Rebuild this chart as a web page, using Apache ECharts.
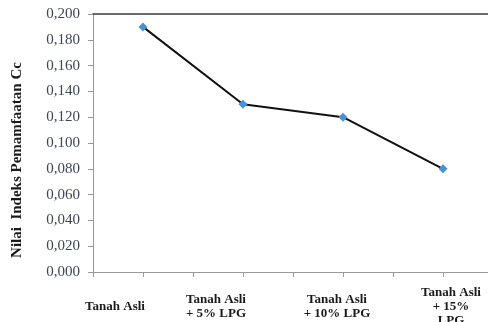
<!DOCTYPE html>
<html>
<head>
<meta charset="utf-8">
<script src="https://cdn.jsdelivr.net/npm/echarts@6/dist/echarts.min.js"></script>
<style>
  html, body { margin: 0; padding: 0; background: #fff; }
  #chart { width: 488px; height: 322px; }
</style>
</head>
<body>
<div id="chart"></div>
<script>
// Soil treatments on the horizontal axis
const categories = ['Tanah Asli', 'Tanah Asli\n+ 5% LPG', 'Tanah Asli\n+ 10% LPG', 'Tanah Asli\n+ 15%\nLPG'];
// Compression index (Cc) per treatment
const ccValues = [0.190, 0.130, 0.120, 0.080];
// Horizontal shift (px) of each category caption
const labelShift = [-28, -27, -6, 8];
const yTicks = { min: 0, max: 0.2, interval: 0.02 };

const chart = echarts.init(document.getElementById('chart'), null, { renderer: 'canvas' });

const rich = {};
categories.forEach((c, i) => {
  const s = labelShift[i];
  rich['c' + i] = {
    fontFamily: 'Liberation Serif',
    fontWeight: 'bold',
    fontSize: 13,
    lineHeight: 14,
    color: '#1a1a1a',
    align: 'center',
    padding: s < 0 ? [0, -2 * s, 0, 0] : [0, 0, 0, 2 * s]
  };
});

chart.setOption({
  animation: false,
  grid: { left: 93, width: 400, top: 14, bottom: 50, containLabel: false, outerBoundsMode: 'none' },
  xAxis: [
    {
      type: 'category',
      data: categories,
      boundaryGap: true,
      axisLine: { show: true, lineStyle: { color: '#9a9a9a', width: 1 } },
      axisTick: { show: true, length: 5, lineStyle: { color: '#9a9a9a' } },
      axisLabel: {
        margin: 35,
        verticalAlign: 'middle',
        interval: 0,
        formatter: (v, i) => v.split('\n').map(line => '{c' + i + '|' + line + '}').join('\n'),
        rich: rich
      },
      splitLine: { show: false }
    },
    {
      // half-step ticks along the bottom edge
      type: 'category',
      position: 'bottom',
      data: ['', '', '', '', '', '', '', ''],
      boundaryGap: true,
      axisLine: { show: false },
      axisTick: { show: true, length: 5, lineStyle: { color: '#9a9a9a' } },
      axisLabel: { show: false },
      splitLine: { show: false }
    },
    {
      // plot-area top border
      type: 'category',
      position: 'top',
      data: categories,
      axisLine: { show: true, lineStyle: { color: '#3a3a3a', width: 1.5 } },
      axisTick: { show: false },
      axisLabel: { show: false }
    }
  ],
  yAxis: {
    type: 'value',
    min: yTicks.min,
    max: yTicks.max,
    interval: yTicks.interval,
    name: 'Nilai  Indeks Pemamfaatan Cc',
    nameLocation: 'middle',
    nameGap: 68,
    nameTextStyle: {
      fontFamily: 'Liberation Serif',
      fontWeight: 'bold',
      fontSize: 15,
      color: '#1a1a1a',
      padding: [0, 0, 0, -34]
    },
    axisLine: { show: true, lineStyle: { color: '#9a9a9a', width: 1 } },
    axisTick: { show: true, inside: false, length: 5, lineStyle: { color: '#9a9a9a' } },
    axisLabel: {
      margin: 13,
      fontFamily: 'Liberation Serif',
      fontSize: 15,
      color: '#3d4656',
      formatter: v => v.toFixed(3).replace('.', ',')
    },
    splitLine: { show: false }
  },
  series: [
    {
      type: 'line',
      xAxisIndex: 0,
      data: ccValues,
      symbol: 'diamond',
      symbolSize: 9,
      itemStyle: { color: '#4a90d9' },
      lineStyle: { color: '#111', width: 2 },
      label: { show: false }
    }
  ]
});
</script>
</body>
</html>
